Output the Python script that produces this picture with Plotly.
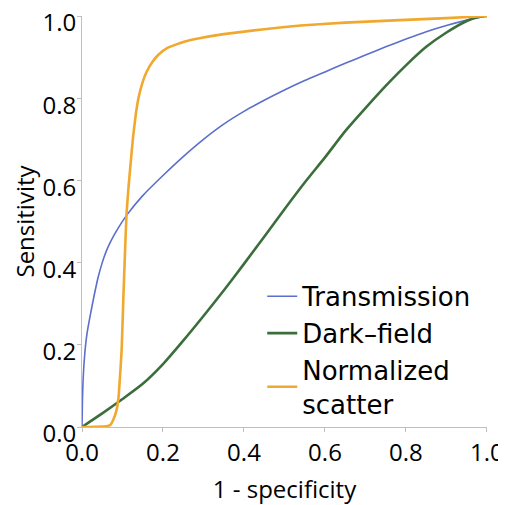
import plotly.graph_objects as go

# Transmission (blue)
trans_x = [0, 0.001, 0.003, 0.007, 0.012, 0.02, 0.03, 0.04, 0.05, 0.06, 0.07, 0.09, 0.11,
           0.15, 0.2, 0.25, 0.3, 0.35, 0.4, 0.45, 0.5, 0.55, 0.6, 0.65, 0.7, 0.75, 0.8,
           0.85, 0.9, 0.95, 0.985, 1.0]
trans_y = [0, 0.06, 0.12, 0.18, 0.225, 0.27, 0.32, 0.365, 0.40, 0.428, 0.45, 0.485, 0.515,
           0.563, 0.612, 0.658, 0.70, 0.737, 0.768, 0.795, 0.82, 0.843, 0.864, 0.885, 0.905,
           0.925, 0.944, 0.962, 0.977, 0.99, 0.998, 1.0]

# Dark-field (green)
dark_x = [0, 0.05, 0.1, 0.15, 0.2, 0.25, 0.3, 0.35, 0.4, 0.45, 0.5, 0.55, 0.6, 0.65,
          0.7, 0.75, 0.8, 0.85, 0.9, 0.95, 0.98, 1.0]
dark_y = [0, 0.033, 0.068, 0.105, 0.153, 0.21, 0.27, 0.332, 0.397, 0.463, 0.53, 0.595,
          0.656, 0.72, 0.776, 0.83, 0.88, 0.925, 0.96, 0.988, 0.998, 1.0]

# Normalized scatter (orange)
norm_x = [0, 0.06, 0.07, 0.077, 0.085, 0.09, 0.095, 0.098, 0.102, 0.106, 0.11, 0.115,
          0.12, 0.126, 0.133, 0.14, 0.15, 0.16, 0.175, 0.19, 0.21, 0.25, 0.29, 0.35,
          0.45, 0.54, 0.65, 0.785, 0.9, 1.0]
norm_y = [0, 0.002, 0.005, 0.017, 0.04, 0.07, 0.14, 0.19, 0.31, 0.42, 0.52, 0.585,
          0.64, 0.705, 0.762, 0.803, 0.84, 0.865, 0.89, 0.907, 0.922, 0.937, 0.946, 0.956,
          0.968, 0.977, 0.984, 0.99, 0.995, 1.0]

tick_vals = [0, 0.2, 0.4, 0.6, 0.8, 1.0]
tick_text = ["0.0", "0.2", "0.4", "0.6", "0.8", "1.0"]

FONT = "Open Sans"

fig = go.Figure()
fig.add_trace(go.Scatter(x=trans_x, y=trans_y, mode="lines", name="Transmission",
                         line=dict(color="#5B6FCB", width=1.6, shape="spline", smoothing=0.6),
                         cliponaxis=False))
fig.add_trace(go.Scatter(x=dark_x, y=dark_y, mode="lines", name="Dark–field",
                         line=dict(color="#3B6E3B", width=2.6, shape="spline", smoothing=0.6),
                         cliponaxis=False))
fig.add_trace(go.Scatter(x=norm_x, y=norm_y, mode="lines", name="Normalized<br>scatter",
                         line=dict(color="#F0A82E", width=2.6, shape="spline", smoothing=0.4),
                         cliponaxis=False))

axis_common = dict(
    range=[0, 1.0001], tickvals=tick_vals, ticktext=tick_text,
    showgrid=False, zeroline=False, showline=True, linecolor="#BFBFBF", linewidth=1,
    ticks="outside", ticklen=4, tickcolor="#BFBFBF", automargin=False,
    ticklabeloverflow="allow",
    tickfont=dict(family=FONT, size=24, color="black"),
)

# page body has an 8px margin, so the figure is 8px smaller than the window
fig.update_layout(
    width=498, height=497,
    margin=dict(l=74, r=19, t=8, b=78),
    paper_bgcolor="white", plot_bgcolor="white",
    xaxis=dict(**axis_common,
               title=dict(text="1 - specificity",
                          font=dict(family=FONT, size=24, color="black"))),
    yaxis=dict(**axis_common, ticklabelshift=7, ticklabelstandoff=-4,
               title=dict(text="Sensitivity",
                          font=dict(family=FONT, size=24, color="black"))),
    legend=dict(x=0.445, y=0.375, xanchor="left", yanchor="top",
                bgcolor="rgba(0,0,0,0)", borderwidth=0,
                font=dict(family="DejaVu Sans", size=26, color="black"),
                itemwidth=30, tracegroupgap=0),
    showlegend=True,
)

fig.write_html("out.html")
